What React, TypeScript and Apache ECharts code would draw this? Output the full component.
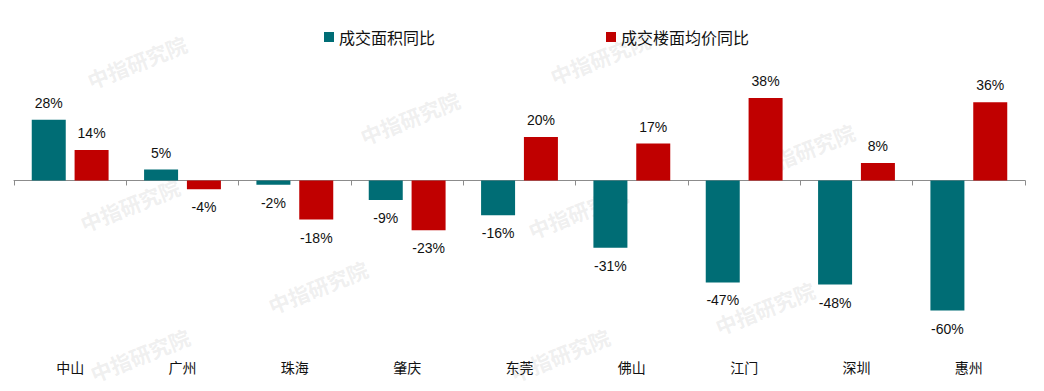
import React, { useEffect, useRef } from "react";
import * as echarts from "echarts";

const categories = ["中山", "广州", "珠海", "肇庆", "东莞", "佛山", "江门", "深圳", "惠州"];
const areaYoY = [28, 5, -2, -9, -16, -31, -47, -48, -60];
const priceYoY = [14, -4, -18, -23, 20, 17, 38, 8, 36];
const seriesNames = ["成交面积同比", "成交楼面均价同比"];
const watermarkText = "中指研究院";
const watermarkSpots: [number, number][] = [
  [137, 62], [410, 118], [600, 58], [805, 150],
  [130, 205], [318, 287], [578, 212], [765, 308], [560, 355], [140, 355],
];

export default function App() {
  const ref = useRef<HTMLDivElement>(null);
  useEffect(() => {
    if (!ref.current) return;
    const chart = echarts.init(ref.current, undefined, { renderer: "svg" });
    const mk = (vals: number[]) =>
      vals.map((v) => ({
        value: v,
        label: { position: v >= 0 ? "top" : "bottom", distance: v >= 0 ? 10 : 11 },
      }));
    const labelCommon = {
      show: true,
      formatter: (p: any) => `${p.value}%`,
      fontSize: 14,
      color: "#111",
      fontFamily: "Liberation Sans, Arial, sans-serif",
    };
    chart.setOption({
      animation: false,
      backgroundColor: "#fff",
      legend: {
        left: 319,
        top: 24,
        itemWidth: 10,
        itemHeight: 10,
        itemGap: 171,
        icon: "rect",
        textStyle: { fontSize: 16, color: "#111", fontFamily: "Noto Sans CJK SC" },
        data: seriesNames,
      },
      graphic: watermarkSpots.map(([x, y]) => ({
        type: "text",
        x,
        y,
        rotation: 0.38,
        z: 0,
        silent: true,
        style: {
          text: watermarkText,
          fontSize: 21,
          fontWeight: "bold",
          fontFamily: "Noto Sans CJK SC",
          fill: "rgba(190,190,190,0.24)",
          align: "center",
          verticalAlign: "middle",
        },
      })),
      grid: { left: 14, right: 19, top: 72, height: 282, outerBoundsMode: "none", containLabel: false },
      xAxis: [
        {
          type: "category",
          data: categories,
          position: "bottom",
          axisLine: { onZero: true, lineStyle: { color: "#8c8c8c", width: 1 } },
          axisTick: { show: true, length: 5, lineStyle: { color: "#8c8c8c" } },
          axisLabel: { show: false },
          splitLine: { show: false },
        },
        {
          type: "category",
          data: categories,
          position: "bottom",
          axisLine: { show: false, onZero: false },
          axisTick: { show: false },
          axisLabel: {
            margin: 6,
            fontSize: 14,
            color: "#111",
            fontFamily: "Noto Sans CJK SC",
          },
          splitLine: { show: false },
        },
      ],
      yAxis: { type: "value", min: -80, max: 50, show: false, splitLine: { show: false } },
      series: [
        {
          name: seriesNames[0],
          type: "bar",
          data: mk(areaYoY),
          barWidth: 34,
          barGap: "26%",
          itemStyle: { color: "#006D75" },
          label: labelCommon,
          z: 3,
        },
        {
          name: seriesNames[1],
          type: "bar",
          data: mk(priceYoY),
          barWidth: 34,
          itemStyle: { color: "#C00000" },
          label: labelCommon,
          z: 3,
        },
      ],
    });
    return () => chart.dispose();
  }, []);
  return (
    <div
      ref={ref}
      style={{ position: "fixed", left: 0, top: 0, width: 1044, height: 391 }}
    />
  );
}
